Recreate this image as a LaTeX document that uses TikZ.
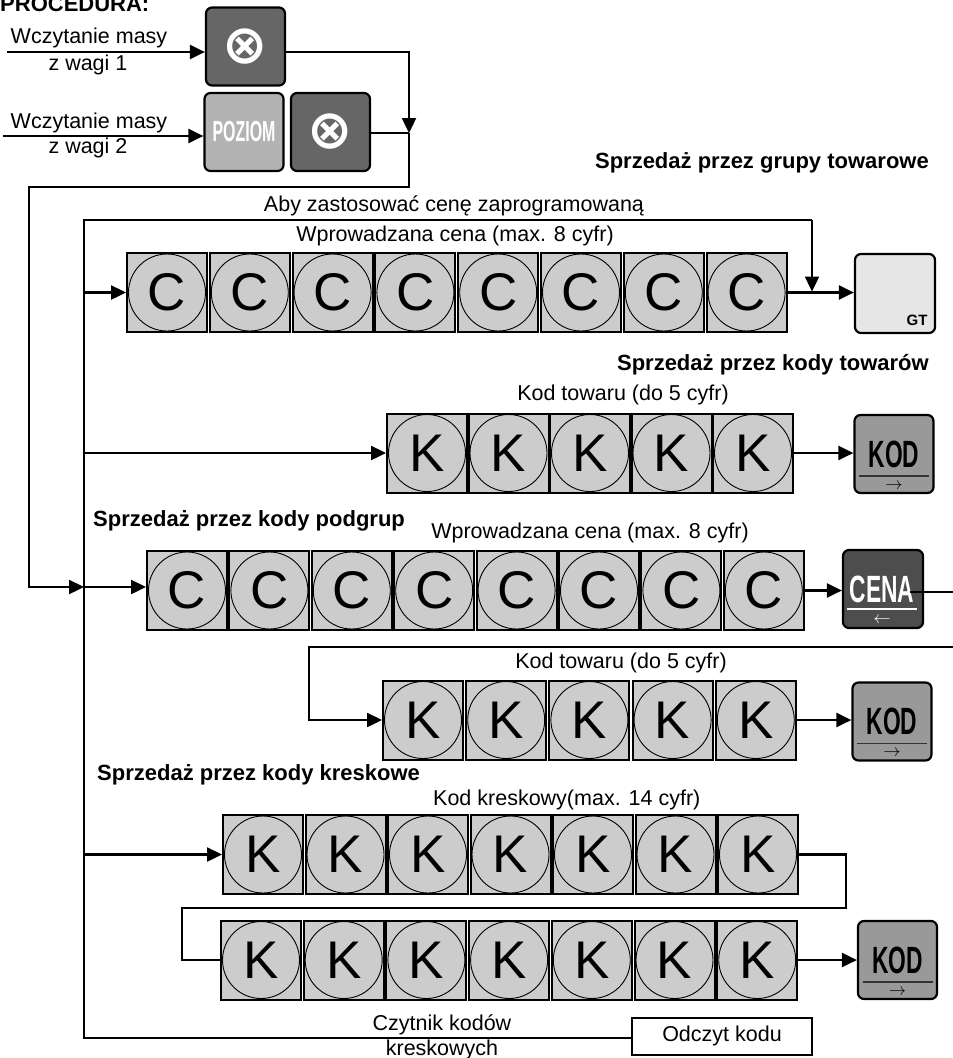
\documentclass[tikz,border=0pt]{standalone}
\usepackage{fontspec}
\setmainfont{Liberation Sans}
\newfontfamily\djv{DejaVu Sans}
\usetikzlibrary{arrows.meta,calc}
\definecolor{keyfill}{HTML}{CCCCCC}
\definecolor{darkkey}{HTML}{666666}
\definecolor{cenakey}{HTML}{4D4D4D}
\definecolor{kodkey}{HTML}{999999}
\definecolor{gtkey}{HTML}{E6E6E6}
\definecolor{pozkey}{HTML}{B3B3B3}
\begin{document}
\begin{tikzpicture}[x=1pt,y=-1pt,
  conn/.style={line width=2.4pt},
  arr/.style={conn,-{Triangle[length=15pt,width=14pt]}},
  digit/.style={draw,line width=2pt,fill=keyfill,minimum width=80pt,minimum height=79pt,inner sep=0pt,
     font=\fontsize{53}{53}\selectfont,
     path picture={\draw[line width=0.9pt] (path picture bounding box.center) circle (38.5pt);}},
  fkey/.style={draw,line width=2.2pt,rounded corners=6pt,minimum width=79pt,minimum height=78pt,inner sep=0pt},
  lbl/.style={font=\fontsize{21.5}{24}\selectfont,inner sep=0pt},
  head/.style={font=\bfseries\fontsize{22}{24}\selectfont,inner sep=0pt},
  keytxt/.style={font=\bfseries\fontsize{38}{38}\selectfont,inner sep=0pt},
  xtxt/.style={text=white,font=\djv\bfseries\fontsize{54}{54}\selectfont},
  small/.style={font=\fontsize{18}{18}\selectfont,inner sep=0pt},
]
\useasboundingbox (0,0) rectangle (953,1058);
\fill[white] (0,0) rectangle (953,1058);

% title
\node[head,anchor=base west] (title) at (0,11) {PROCEDURA:};

% top keys
\node[fkey,fill=darkkey,xtxt] (x1) at (245.5,46.5) {⊗};
\node[fkey,fill=pozkey,text=white,font=\bfseries\fontsize{29}{29}\selectfont] (poz) at (244,132) {\scalebox{0.55}[1]{POZIOM}};
\node[fkey,fill=darkkey,xtxt] (x2) at (330.5,132) {⊗};

\node[lbl] (w1a) at (89,38) {Wczytanie masy};
\node[lbl] (w1b) at (88,65) {z wagi 1};
\node[lbl] (w2a) at (89,123) {Wczytanie masy};
\node[lbl] (w2b) at (88,148) {z wagi 2};

\coordinate (in1) at (7,52);
\coordinate (in2) at (3,136);
\coordinate (j1) at (409,133);
\coordinate (c1) at (409,187);
\coordinate (c2) at (29,187);
\coordinate (j2) at (84,587);
\draw[arr] (in1) -- (in1 -| x1.west);
\draw[arr] (in2) -- (in2 -| poz.west);
\draw[arr] (x1.east |- in1) -| (j1);
\draw[conn] (x2.east |- j1) -- (j1);
\draw[arr] (j1) -- (c1) -- (c2) |- (j2);

% headings and labels
\node[head,anchor=east] (h1) at (929,163) {Sprzedaż przez grupy towarowe};
\node[lbl] (t1) at (454,206) {Aby zastosować cenę zaprogramowaną};
\node[lbl] (t2) at (455,236) {Wprowadzana cena (max. 8 cyfr)};
\node[head,anchor=east] (h2) at (929,365) {Sprzedaż przez kody towarów};
\node[lbl] (t3) at (623,395) {Kod towaru (do 5 cyfr)};
\node[head,anchor=west] (h3) at (93,521) {Sprzedaż przez kody podgrup};
\node[lbl] (t4) at (590,533) {Wprowadzana cena (max. 8 cyfr)};
\node[lbl] (t5) at (621,663) {Kod towaru (do 5 cyfr)};
\node[head,anchor=west] (h4) at (97,775) {Sprzedaż przez kody kreskowe};
\node[lbl,anchor=west] (t6) at (433,800) {Kod kreskowy(max. 14 cyfr)};
\node[lbl] (t7) at (442,1025) {Czytnik kodów};
\node[lbl] (t8) at (442,1050) {kreskowych};

% digit rows
\foreach \i in {1,...,8} \node[digit] (ca\i) at ({167+(\i-1)*82.8},292.5) {C};
\foreach \i in {1,...,5} \node[digit] (ka\i) at ({427+(\i-1)*81.5},453) {K};
\foreach \i in {1,...,8} \node[digit] (cb\i) at ({187+(\i-1)*82.4},590.5) {C};
\foreach \i in {1,...,5} \node[digit] (kb\i) at ({423+(\i-1)*83.2},720) {K};
\foreach \i in {1,...,7} \node[digit] (ba\i) at ({263+(\i-1)*82.5},854.5) {K};
\foreach \i in {1,...,7} \node[digit] (bb\i) at ({261+(\i-1)*82.7},960) {K};

% GT key
\node[fkey,fill=gtkey,minimum width=80pt,minimum height=79pt] (gt) at (895,293.5) {};
\node[font=\bfseries\fontsize{15}{15}\selectfont,inner sep=0pt] (gtt) at (917,320) {GT};

% KOD keys
\foreach \n/\x/\y in {kod1/894/454, kod2/892/721.5, kod3/897.5/960}{
  \node[fkey,fill=kodkey] (\n) at (\x,\y) {};
  \node[keytxt] (\n t) at ($(\n.center)+(0,0)$) {\scalebox{0.6}[1]{KOD}};
  \draw[line width=1.2pt,black!80] ($(\n.center)+(-35,22)$) -- ($(\n.center)+(35,22)$);
  \node[small] (\n a) at ($(\n.center)+(0,32)$) {$\rightarrow$};
}

% CENA key
\node[fkey,fill=cenakey,minimum width=80pt] (cena) at (883,589) {};
\node[keytxt,text=white] (cenat) at ($(cena.center)+(-1,0)$) {\scalebox{0.6}[1]{CENA}};
\draw[line width=1.2pt,white] ($(cena.center)+(-36,20)$) -- ($(cena.center)+(34,20)$);
\node[small,text=white] (cenaa) at ($(cena.center)+(-1,31)$) {$\leftarrow$};

% Odczyt box
\node[draw,line width=2pt,minimum width=180pt,minimum height=37pt,lbl] (odczyt) at (722,1036) {Odczyt kodu};

% bus and connectors
\coordinate (btop) at (84,220);
\coordinate (bbot) at (84,1038);
\coordinate (btr) at (812,220);
\coordinate (j3) at (812,291.5);
\draw[conn] (btr) -- (btop) -- (bbot) -- (bbot -| odczyt.west);
\draw[arr] (btr) -- (j3);
\draw[arr] (j2) -- (j2 -| cb1.west);
\draw[arr] (btop |- ca1) -- (ca1.west);
\draw[arr] (ca8.east) -- (ca8.east -| gt.west);
\draw[arr] (btop |- ka1) -- (ka1.west);
\draw[arr] (ka5.east) -- (ka5.east -| kod1.west);
\draw[arr] (cb8.east) -- (cb8.east -| cena.west);
\coordinate (cout) at (953,592);
\draw[conn] ($(cena.center)+(27,3)$) -- (cout);
\coordinate (rin) at (953,647);
\coordinate (rl) at (309,647);
\draw[arr] (rin) -- (rl) |- (kb1.west);
\draw[arr] (kb5.east) -- (kb5.east -| kod2.west);
\draw[arr] (btop |- ba1) -- (ba1.west);
\coordinate (lr) at (846,908);
\coordinate (ll) at (182,908);
\draw[conn] (ba7.east) -| (lr) -- (ll) |- (bb1.west);
\draw[arr] (bb7.east) -- (bb7.east -| kod3.west);
\end{tikzpicture}
\end{document}
